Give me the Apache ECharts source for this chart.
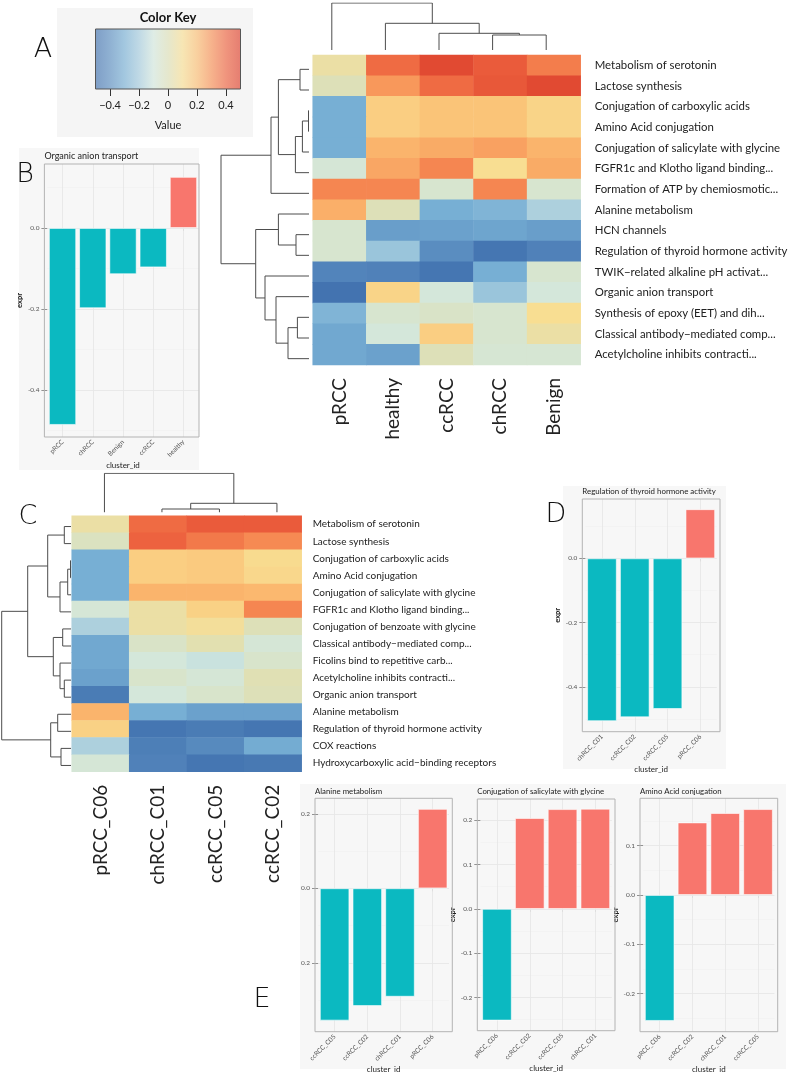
<!DOCTYPE html>
<html><head><meta charset="utf-8">
<script src="https://cdn.jsdelivr.net/npm/echarts@6/dist/echarts.min.js"></script>
<style>html,body{margin:0;padding:0;background:#fff}#c{width:789px;height:1072px}</style>
</head><body><div id="c"></div>
<script>
// ---------------- DATA ----------------
const keyRange = [-0.5, 0.5];
const keyTicks = [-0.4, -0.2, 0, 0.2, 0.4];

const rowsA = ['Metabolism of serotonin','Lactose synthesis','Conjugation of carboxylic acids','Amino Acid conjugation','Conjugation of salicylate with glycine','FGFR1c and Klotho ligand binding...','Formation of ATP by chemiosmotic...','Alanine metabolism','HCN channels','Regulation of thyroid hormone activity','TWIK\u2212related alkaline pH activat...','Organic anion transport','Synthesis of epoxy (EET) and dih...','Classical antibody\u2212mediated comp...','Acetylcholine inhibits contracti...'];
const colsA = ['pRCC','healthy','ccRCC','chRCC','Benign'];
const valsA = [
  [0.05, 0.38, 0.47, 0.42, 0.34],
  [0.00, 0.28, 0.38, 0.43, 0.47],
  [-0.30, 0.15, 0.18, 0.18, 0.13],
  [-0.30, 0.15, 0.18, 0.18, 0.13],
  [-0.30, 0.22, 0.24, 0.26, 0.22],
  [-0.08, 0.25, 0.32, 0.10, 0.24],
  [0.32, 0.32, -0.06, 0.32, -0.06],
  [0.23, 0.00, -0.30, -0.28, -0.18],
  [-0.06, -0.35, -0.34, -0.33, -0.35],
  [-0.06, -0.22, -0.40, -0.48, -0.44],
  [-0.43, -0.44, -0.48, -0.30, -0.06],
  [-0.49, 0.13, -0.09, -0.22, -0.09],
  [-0.28, -0.06, -0.04, -0.06, 0.10],
  [-0.32, -0.09, 0.15, -0.06, 0.05],
  [-0.32, -0.34, 0.00, -0.07, -0.07]
];
// hclust-style merges: negative = leaf (1-based, display order), positive = earlier merge; third = height
const rowMergeA = [[-1,-2,9],[-3,-4,0.5],[2,-5,6.6],[3,-6,13.6],[1,4,30.6],[5,-7,38],[-9,-10,13],[-8,7,30.6],[-13,-14,11.6],[9,-15,21],[-12,10,33],[-11,11,44],[8,12,53.3],[6,13,88]];
const colMergeA = [[-4,-5,15],[-3,1,16.7],[-2,2,26.7],[-1,3,47]];

const rowsC = ['Metabolism of serotonin','Lactose synthesis','Conjugation of carboxylic acids','Amino Acid conjugation','Conjugation of salicylate with glycine','FGFR1c and Klotho ligand binding...','Conjugation of benzoate with glycine','Classical antibody\u2212mediated comp...','Ficolins bind to repetitive carb...','Acetylcholine inhibits contracti...','Organic anion transport','Alanine metabolism','Regulation of thyroid hormone activity','COX reactions','Hydroxycarboxylic acid\u2212binding receptors'];
const colsC = ['pRCC_C06','chRCC_C01','ccRCC_C05','ccRCC_C02'];
const valsC = [
  [0.05, 0.38, 0.42, 0.42],
  [-0.02, 0.40, 0.35, 0.31],
  [-0.30, 0.15, 0.16, 0.11],
  [-0.30, 0.15, 0.16, 0.12],
  [-0.30, 0.22, 0.22, 0.21],
  [-0.08, 0.05, 0.14, 0.32],
  [-0.18, 0.05, 0.08, 0.00],
  [-0.32, -0.04, 0.02, -0.08],
  [-0.32, -0.09, -0.12, -0.05],
  [-0.34, -0.05, -0.08, 0.01],
  [-0.46, -0.09, -0.05, 0.00],
  [0.22, -0.30, -0.34, -0.34],
  [0.14, -0.48, -0.46, -0.48],
  [-0.18, -0.45, -0.41, -0.31],
  [-0.08, -0.44, -0.48, -0.47]
];
const rowMergeC = [[-1,-2,6.7],[-3,-4,0.5],[2,-5,3.3],[3,-6,11],[1,4,23.3],[-7,-8,8.3],[-10,-11,6.7],[-9,7,11],[6,8,17.7],[5,9,43.3],[-12,-13,13.3],[-14,-15,10],[11,12,20.3],[10,13,69.3]];
const colMergeC = [[-2,-3,3.3],[1,-4,9],[-1,2,39]];

const bCats = ['pRCC','chRCC','Benign','ccRCC','healthy'];
const bVals = [-0.486, -0.198, -0.114, -0.097, 0.126];
const bTicks = [-0.4, -0.2, 0];

const dCats = ['chRCC_C01','ccRCC_C02','ccRCC_C05','pRCC_C06'];
const dVals = [-0.507, -0.495, -0.469, 0.153];
const dTicks = [-0.4, -0.2, 0];

const e1Cats = ['ccRCC_C05','ccRCC_C02','chRCC_C01','pRCC_C06'];
const e1Vals = [-0.355, -0.316, -0.291, 0.213];
const e1Ticks = [-0.2, 0, 0.2];

const e2Cats = ['pRCC_C06','ccRCC_C02','ccRCC_C05','chRCC_C01'];
const e2Vals = [-0.252, 0.205, 0.225, 0.226];
const e2Ticks = [-0.2, -0.1, 0, 0.1, 0.2];

const e3Cats = ['pRCC_C06','ccRCC_C02','chRCC_C01','ccRCC_C05'];
const e3Vals = [-0.255, 0.147, 0.166, 0.174];
const e3Ticks = [-0.2, -0.1, 0, 0.1];

// ---------------- STYLE ----------------
const FONT = 'Lato, "Noto Sans", sans-serif';
const scaleColors = ['#4070ae','#5a8dc0','#77afd4','#a3cadd','#d3e8de','#dde0b8','#f8de92','#fbbd72','#f78f55','#ed623f','#dc3f2c'];
const POS = '#F8766D', NEG = '#0BB9C1';
const PANEL_BG = '#f7f7f7';

const grids = [], xAxes = [], yAxes = [], series = [], graphics = [];
function addGrid(g) { grids.push(Object.assign({ outerBoundsMode: 'none', containLabel: false, show: false }, g)); return grids.length - 1; }
function txt(text, x, y, font, opt) {
  graphics.push(Object.assign({ type: 'text', z: 100, silent: true,
    style: Object.assign({ text, x, y, font, fill: '#222', textAlign: 'left', textVerticalAlign: 'middle' }, opt || {}) }));
}
function rect(x, y, w, h, style, z) {
  graphics.push({ type: 'rect', z: z == null ? -10 : z, silent: true, shape: { x, y, width: w, height: h }, style });
}

// dendrogram layout from merges
function dendro(merges, horizontal) {
  const pos = [];
  const get = k => k < 0 ? [-k - 1, 0] : pos[k - 1];
  return merges.map((m, j) => {
    const a = get(m[0]), b = get(m[1]), h = m[2];
    pos[j] = [(a[0] + b[0]) / 2, h];
    const pts = [[a[0], a[1]], [a[0], h], [b[0], h], [b[0], b[1]]];
    return { coords: horizontal ? pts.map(p => [p[1], p[0]]) : pts };
  });
}
function addDendro(merges, horizontal, nLeaves, box) {
  const maxH = Math.max.apply(null, merges.map(m => m[2]));
  const gi = addGrid(box);
  const leafAxis = { type: 'value', min: -0.5, max: nLeaves - 0.5, show: false, gridIndex: gi };
  const hAxis = { type: 'value', min: 0, max: maxH, show: false, gridIndex: gi };
  if (horizontal) {
    xAxes.push(Object.assign({}, hAxis, { inverse: true }));
    yAxes.push(Object.assign({}, leafAxis, { inverse: true }));
  } else {
    xAxes.push(leafAxis);
    yAxes.push(hAxis);
  }
  series.push({ type: 'lines', coordinateSystem: 'cartesian2d', xAxisIndex: xAxes.length - 1, yAxisIndex: yAxes.length - 1,
    polyline: true, silent: true, effect: { show: false },
    lineStyle: { color: '#4d4d4d', width: 1, opacity: 1 }, data: dendro(merges, horizontal) });
}

const heatSeries = [];
function addHeat(rows, cols, vals, box, rowFont, rowMargin, colFont) {
  const gi = addGrid(box);
  xAxes.push({ type: 'category', gridIndex: gi, data: cols, position: 'bottom',
    axisLine: { show: false }, axisTick: { show: false }, splitLine: { show: false },
    axisLabel: { rotate: 90, margin: 13, fontSize: colFont, fontFamily: FONT, color: '#222' } });
  yAxes.push({ type: 'category', gridIndex: gi, data: rows, inverse: true, position: 'right',
    axisLine: { show: false }, axisTick: { show: false }, splitLine: { show: false },
    axisLabel: { margin: rowMargin, fontSize: rowFont, fontFamily: FONT, color: '#222' } });
  const data = [];
  vals.forEach((r, i) => r.forEach((v, j) => data.push([j, i, v])));
  series.push({ type: 'heatmap', xAxisIndex: xAxes.length - 1, yAxisIndex: yAxes.length - 1, data,
    silent: true, itemStyle: { borderWidth: 0 } });
  heatSeries.push(series.length - 1);
}

function addBar(cfg) {
  const n = cfg.cats.length;
  const unit = (cfg.r - cfg.l) / (n + 0.2);
  const inset = 0.1 * unit;
  const gi = addGrid({ left: cfg.l + inset, top: cfg.t, width: unit * n, height: cfg.b - cfg.t });
  const right = cfg.clipR || cfg.r;
  // panel border
  rect(cfg.l, cfg.t, right - cfg.l, cfg.b - cfg.t, { fill: 'none', stroke: '#b3b3b3', lineWidth: 1 }, 50);
  const xIdx = xAxes.length, yIdx = yAxes.length;
  xAxes.push({ type: 'category', gridIndex: gi, data: cfg.cats, axisLine: { show: false },
    axisTick: { show: true, alignWithLabel: true, length: 3, lineStyle: { color: '#777', width: 0.8 } },
    axisLabel: { rotate: 45, margin: 4, fontSize: 6.5, fontFamily: FONT, color: '#555' },
    splitLine: { show: false },
    name: 'cluster_id', nameLocation: 'middle', nameGap: cfg.xNameGap,
    nameTextStyle: { fontSize: 8, fontFamily: FONT, color: '#222' } });
  const fmt = cfg.fmt || (v => v.toFixed(1));
  yAxes.push({ type: 'value', gridIndex: gi, min: cfg.min, max: cfg.max, axisLine: { show: false },
    splitLine: { show: false },
    axisTick: { show: true, length: inset + 3, customValues: cfg.ticks, lineStyle: { color: '#777', width: 0.8 } },
    axisLabel: { customValues: cfg.ticks, formatter: fmt, margin: inset + 5, fontSize: 6.5, fontFamily: FONT, color: '#555' },
    name: cfg.yName || '', nameLocation: 'middle', nameRotate: 90, nameGap: cfg.yNameGap || 15,
    nameTextStyle: { fontSize: 7.5, fontFamily: FONT, color: '#222', fontWeight: 'bold' } });
  // gridlines
  const step = cfg.ticks[1] - cfg.ticks[0];
  const minors = [];
  let m0 = cfg.ticks[0] - step / 2;
  while (m0 - step >= cfg.min) m0 -= step;
  for (let m = m0; m <= cfg.max + 1e-9; m += step) if (m >= cfg.min) minors.push(+m.toFixed(4));
  const majorLS = { color: '#e6e6e6', width: 0.9, type: 'solid' };
  const minorLS = { color: '#eeeeee', width: 0.5, type: 'solid' };
  series.push({ type: 'line', xAxisIndex: xIdx, yAxisIndex: yIdx, data: cfg.vals, symbol: 'none', silent: true, z: 1,
    lineStyle: { opacity: 0 },
    markLine: { silent: true, z: 1, symbol: ['none', 'none'], label: { show: false }, animation: false,
      data: [].concat(
        minors.map(v => ({ yAxis: v, lineStyle: minorLS })),
        cfg.ticks.map(v => ({ yAxis: v, lineStyle: majorLS })),
        cfg.cats.map(c => ({ xAxis: c, lineStyle: majorLS }))) } });
  series.push({ type: 'bar', xAxisIndex: xIdx, yAxisIndex: yIdx, z: 10, silent: true, barCategoryGap: '10%',
    data: cfg.vals.map(v => ({ value: v, itemStyle: { color: v >= 0 ? POS : NEG } })),
    itemStyle: { borderColor: 'rgba(255,255,255,0.75)', borderWidth: 0.8 } });
  txt(cfg.title, cfg.l, cfg.titleY, cfg.titleFont + 'px ' + FONT, { fill: '#222' });
}

// ---------------- BACKGROUNDS ----------------
rect(57, 8, 196, 129, { fill: '#f5f5f5' });
rect(19, 148, 180, 322, { fill: PANEL_BG });
rect(563, 486, 163, 283, { fill: PANEL_BG });
rect(300, 784, 486, 285, { fill: PANEL_BG });

// ---------------- COLOR KEY ----------------
{
  const gi = addGrid({ left: 95.5, top: 29, width: 145, height: 60 });
  xAxes.push({ type: 'value', gridIndex: gi, min: keyRange[0], max: keyRange[1], axisLine: { show: false }, splitLine: { show: false },
    axisTick: { show: true, length: 7, customValues: keyTicks, lineStyle: { color: '#333' } },
    axisLabel: { customValues: keyTicks, margin: 11, fontSize: 11, fontFamily: FONT, color: '#222',
      formatter: v => v === 0 ? '0' : (v < 0 ? '\u2212' : '') + Math.abs(v).toFixed(1) },
    name: 'Value', nameLocation: 'middle', nameGap: 31, nameTextStyle: { fontSize: 11, fontFamily: FONT, color: '#222' } });
  yAxes.push({ type: 'value', gridIndex: gi, min: 0, max: 1, show: false });
  const stops = scaleColors.map((c, i) => ({ offset: i / (scaleColors.length - 1), color: echarts.color.modifyAlpha(c, 0.66) }));
  series.push({ type: 'custom', xAxisIndex: xAxes.length - 1, yAxisIndex: yAxes.length - 1, silent: true,
    data: [[keyRange[0], keyRange[1]]],
    renderItem: (params, api) => {
      const p0 = api.coord([api.value(0), 1]);
      const p1 = api.coord([api.value(1), 0]);
      return { type: 'rect', shape: { x: p0[0], y: p0[1], width: p1[0] - p0[0], height: p1[1] - p0[1] },
        style: { fill: new echarts.graphic.LinearGradient(0, 0, 1, 0, stops), stroke: '#555', lineWidth: 1 } };
    } });
  txt('Color Key', 168, 18, 'bold 13px ' + FONT, { textAlign: 'center', fill: '#111' });
}

// ---------------- HEATMAP A ----------------
addHeat(rowsA, colsA, valsA, { left: 312.7, top: 55, width: 268, height: 310 }, 11.4, 14, 19);
addDendro(rowMergeA, true, rowsA.length, { left: 221, top: 59, width: 88, height: 310 });
addDendro(colMergeA, false, colsA.length, { left: 305, top: 3, width: 268, height: 47 });

// ---------------- HEATMAP C ----------------
addHeat(rowsC, colsC, valsC, { left: 71.7, top: 515.7, width: 230, height: 256 }, 10, 11, 19);
addDendro(rowMergeC, true, rowsC.length, { left: 1.7, top: 518, width: 69.3, height: 256 });
addDendro(colMergeC, false, colsC.length, { left: 75.7, top: 473.3, width: 230, height: 39 });

// ---------------- BAR PANELS ----------------
addBar({ cats: bCats, vals: bVals, ticks: bTicks, min: -0.516, max: 0.158, l: 44.4, r: 201.6, clipR: 199, t: 164, b: 437,
  title: 'Organic anion transport', titleY: 156, titleFont: 9, yName: 'expr', yNameGap: 17, xNameGap: 24 });
addBar({ cats: dCats, vals: dVals, ticks: dTicks, min: -0.540, max: 0.185, l: 582.3, r: 720, t: 499, b: 731.7,
  title: 'Regulation of thyroid hormone activity', titleY: 491.5, titleFont: 7.9, yName: 'expr', yNameGap: 15, xNameGap: 27 });
addBar({ cats: e1Cats, vals: e1Vals, ticks: e1Ticks, min: -0.385, max: 0.2416, l: 315, r: 452.3, t: 798.3, b: 1031.7,
  title: 'Alanine metabolism', titleY: 791, titleFont: 7.8, yName: '', xNameGap: 26, fmt: v => Math.abs(v).toFixed(1) });
addBar({ cats: e2Cats, vals: e2Vals, ticks: e2Ticks, min: -0.275, max: 0.248, l: 477.3, r: 615, t: 799, b: 1030.7,
  title: 'Conjugation of salicylate with glycine', titleY: 791, titleFont: 7.8, yName: 'expr', yNameGap: 14, xNameGap: 26 });
addBar({ cats: e3Cats, vals: e3Vals, ticks: e3Ticks, min: -0.277, max: 0.196, l: 640, r: 777.7, t: 798.3, b: 1031.7,
  title: 'Amino Acid conjugation', titleY: 791, titleFont: 7.8, yName: 'expr', yNameGap: 14, xNameGap: 26 });

// ---------------- PANEL LETTERS ----------------
const LET = '200 27px "DejaVu Sans", sans-serif';
txt('A', 43, 50, LET, { textAlign: 'center', fill: '#111' });
txt('B', 25, 175, LET, { textAlign: 'center', fill: '#111' });
txt('C', 28, 517, LET, { textAlign: 'center', fill: '#111' });
txt('D', 556, 515, LET, { textAlign: 'center', fill: '#111' });
txt('E', 262, 1000, LET, { textAlign: 'center', fill: '#111' });

const option = {
  animation: false,
  backgroundColor: '#ffffff',
  graphic: { elements: graphics },
  grid: grids, xAxis: xAxes, yAxis: yAxes,
  visualMap: [{ type: 'continuous', show: false, min: -0.5, max: 0.5, seriesIndex: heatSeries, inRange: { color: scaleColors } }],
  series
};
const chart = echarts.init(document.getElementById('c'), null, { renderer: 'canvas' });
chart.setOption(option);
</script></body></html>
